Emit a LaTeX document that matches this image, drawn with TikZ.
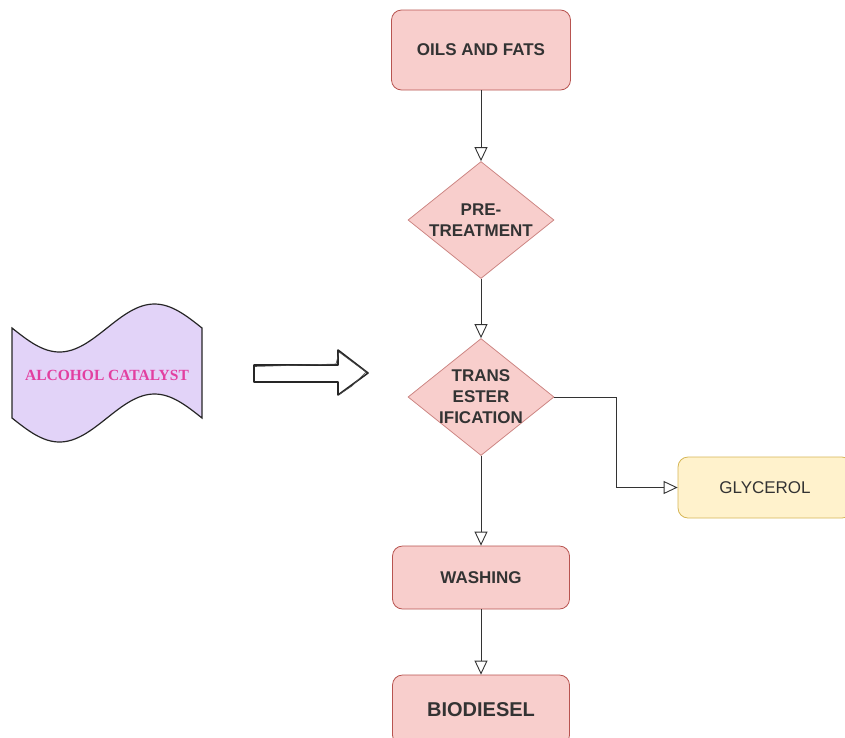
\documentclass[tikz,border=0pt]{standalone}
\usepackage{fontspec}
\setmainfont{Liberation Sans}
\newfontfamily\serifcat{Liberation Serif}
\usetikzlibrary{arrows.meta, positioning, shapes.geometric}

\definecolor{pinkfill}{HTML}{F8CECC}
\definecolor{pinkline}{HTML}{B85450}
\definecolor{yellowfill}{HTML}{FFF2CC}
\definecolor{yellowline}{HTML}{D6B656}
\definecolor{lilacfill}{HTML}{E2D3F8}
\definecolor{catpink}{HTML}{E23FA0}
\definecolor{linegray}{HTML}{333333}

\begin{document}
\begin{tikzpicture}[
    x=1pt, y=-1pt,
    process/.style={rectangle, rounded corners=10pt, draw=pinkline, line width=0.8pt, fill=pinkfill, minimum width=177pt, minimum height=63pt, align=center, font=\fontsize{17}{20}\selectfont\bfseries, text=linegray},
    decision/.style={diamond, draw=pinkline!70, line width=0.8pt, fill=pinkfill, minimum width=146pt, minimum height=117pt, inner sep=0pt},
    dtext/.style={align=center, font=\fontsize{17}{21}\selectfont\bfseries, text=linegray, inner sep=0pt},
    product/.style={rectangle, rounded corners=10pt, draw=yellowline, line width=0.8pt, fill=yellowfill, minimum width=174pt, minimum height=61pt, font=\fontsize{17}{20}\selectfont, text=linegray},
    arrow/.style={-{Triangle[open, length=14pt, width=13pt]}, draw=linegray, line width=0.9pt},
    sketch/.style={draw=black!85, line width=1.6pt, line join=round, fill=white}
]

\useasboundingbox (0,0) rectangle (845,737);
\clip (0,0) rectangle (845,737);

% Main line
\node[process, minimum width=179pt, minimum height=80pt] (oils) at (481,50) {OILS AND FATS};
\node[decision, label={[dtext]center:PRE-\\TREATMENT}] (pretreat) at (481,220) {};
\node[decision, label={[dtext]center:TRANS\\ESTER\\IFICATION}] (transest) at (481,397) {};
\node[process] (washing) at (481,577.5) {WASHING};
\node[process, minimum height=70pt, font=\fontsize{20}{24}\selectfont\bfseries] (biodiesel) at (481,710) {BIODIESEL};

% By-product
\node[product] (glycerol) at (765,487.5) {GLYCEROL};

% Connectors
\draw[arrow] (oils) -- (pretreat);
\draw[arrow] (pretreat) -- (transest);
\draw[arrow] (transest) -- (washing);
\draw[arrow] (washing) -- (biodiesel);
\draw[arrow] (transest.east) -- ++(62,0) |- (glycerol.west);

% Alcohol catalyst (tape)
\draw[draw=black!85, line width=1.2pt, fill=lilacfill]
    (12,328) sin (59.5,352) cos (107,328) sin (154.5,304) cos (202,328)
    -- (202,418) sin (154.5,394) cos (107,418) sin (59.5,442) cos (12,418) -- cycle;
\node[font=\serifcat\fontsize{15.5}{18}\selectfont\bfseries, text=catpink] (catalyst) at (107,375) {ALCOHOL CATALYST};

% Hand drawn arrow
\draw[sketch] (254,365) -- (338,365) -- (338,350) -- (368,373) -- (338,395) -- (338,382) -- (254,382) -- cycle;
\draw[black!70, line width=0.6pt, line join=round] (255,366.5) -- (336,364) -- (339,352) -- (366,372) -- (352,386) -- (340,394);

\end{tikzpicture}
\end{document}
